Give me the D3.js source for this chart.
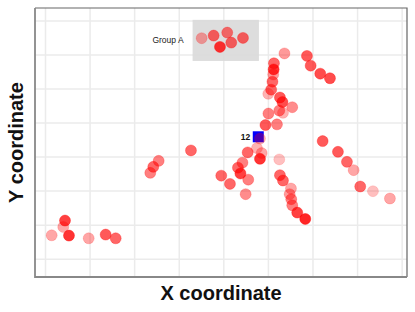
<!DOCTYPE html>
<html>
<head>
<meta charset="utf-8">
<script src="https://cdn.jsdelivr.net/npm/d3@7"></script>
<style>
  body { margin: 0; background: #fff; }
  svg { display: block; font-family: "Liberation Sans", Arial, sans-serif; }
</style>
</head>
<body>
<svg id="chart" width="415" height="312"></svg>
<script>
// point data
const xValues = [4.49, 4.10, 5.38, 1.50, 9.80, 13.61, 15.86,
  35.14, 37.83, 40.88, 39.25, 41.78, 44.41,
  32.74, 25.50, 24.29, 23.62,
  45.46, 48.60, 47.55, 48.22, 44.29, 43.28, 43.84, 39.54, 41.49, 45.59, 45.01, 48.22,
  49.45, 52.03, 50.12, 52.55, 53.38, 55.46, 53.26, 52.70, 50.08, 50.73, 51.02, 51.20, 51.29, 51.36, 53.71,
  58.76, 59.59, 61.74, 63.92,
  62.28, 65.71, 67.73, 69.23, 70.71, 73.56, 77.37,
  52.55, 52.70, 53.38, 55.17, 54.88, 55.24, 55.46, 56.58, 58.38];
const yValues = [11.2, 9.31, 6.78, 6.86, 5.98, 7.07, 5.98,
  64.82, 65.59, 66.47, 62.26, 63.52, 64.91,
  31.82, 28.76, 26.99, 25.22,
  31.23, 31.03, 32.50, 29.35, 28.23, 26.75, 25.04, 24.40, 21.98, 23.22, 18.95, 35.30,
  39.28, 39.48, 42.66, 43.55, 42.87, 44.52, 46.05, 47.38, 48.47, 49.68, 52.03, 54.15, 55.63, 57.45, 60.34,
  59.61, 56.75, 54.39, 53.04,
  34.56, 31.41, 28.46, 26.02, 21.21, 19.83, 17.68,
  29.17, 24.54, 22.98, 20.62, 18.95, 17.47, 15.70, 13.55, 11.67];
const opacities = [0.75, 0.35, 0.8, 0.35, 0.35, 0.65, 0.6,
  0.35, 0.6, 0.55, 0.8, 0.6, 0.6,
  0.6, 0.5, 0.6, 0.5,
  0.6, 0.35, 0.3, 0.8, 0.5, 0.6, 0.75, 0.6, 0.6, 0.5, 0.45, 0.3,
  0.65, 0.5, 0.5, 0.5, 0.3, 0.45, 0.7, 0.65, 0.3, 0.6, 0.6, 0.4, 0.8, 0.6, 0.4,
  0.65, 0.65, 0.7, 0.7,
  0.65, 0.65, 0.6, 0.35, 0.6, 0.25, 0.35,
  0.25, 0.6, 0.6, 0.35, 0.4, 0.5, 0.5, 0.75, 0.85];

const xTicks = [0, 10, 20, 30, 40, 50, 60, 70, 80];
const yTicks = [0, 10, 20, 30, 40, 50, 60, 70];

// highlighted point and group box
const markPoint = { x: 47.84, y: 35.83, label: '12' };
const groupBox = { x0: 33.11, x1: 47.99, y0: 58.13, y1: 70.21, label: 'Group A' };

const svg = d3.select('#chart');
const margin = { top: 8, right: 8, bottom: 35, left: 35 };
const width = 415 - margin.left - margin.right;
const height = 312 - margin.top - margin.bottom;

const x = d3.scaleLinear().domain([-2.24, 81.2]).range([0, width]);
const y = d3.scaleLinear().domain([-5.4, 73.7]).range([height, 0]);

const g = svg.append('g')
  .attr('transform', `translate(${margin.left},${margin.top})`);

// grid
g.append('g')
  .attr('class', 'grid')
  .attr('transform', `translate(0,${height})`)
  .call(d3.axisBottom(x).tickValues(xTicks).tickSize(-height).tickFormat(''))
  .call(s => s.select('.domain').remove())
  .call(s => s.selectAll('line').attr('stroke', '#ebebeb').attr('stroke-width', 1.5));

g.append('g')
  .attr('class', 'grid')
  .call(d3.axisLeft(y).tickValues(yTicks).tickSize(-width).tickFormat(''))
  .call(s => s.select('.domain').remove())
  .call(s => s.selectAll('line').attr('stroke', '#ebebeb').attr('stroke-width', 1.5));

// frame
g.append('path')
  .attr('d', `M0,0H${width}V${height}`)
  .attr('fill', 'none')
  .attr('stroke', '#666')
  .attr('stroke-width', 1.2);
g.append('path')
  .attr('d', `M0,0V${height}H${width}`)
  .attr('fill', 'none')
  .attr('stroke', '#888')
  .attr('stroke-width', 1.8);

// group annotation
g.append('rect')
  .attr('x', x(groupBox.x0))
  .attr('y', y(groupBox.y1))
  .attr('width', x(groupBox.x1) - x(groupBox.x0))
  .attr('height', y(groupBox.y0) - y(groupBox.y1))
  .attr('fill', '#d9d9d9')
  .attr('opacity', 0.9);

g.append('text')
  .attr('x', x(groupBox.x0) - 9)
  .attr('y', (y(groupBox.y0) + y(groupBox.y1)) / 2)
  .attr('dy', '0.35em')
  .attr('text-anchor', 'end')
  .attr('font-size', 8.5)
  .attr('fill', '#222')
  .text(groupBox.label);

// highlighted square
g.append('rect')
  .attr('x', x(markPoint.x) - 5.5)
  .attr('y', y(markPoint.y) - 5.5)
  .attr('width', 11)
  .attr('height', 11)
  .attr('fill', '#0000ff');

g.append('text')
  .attr('x', x(markPoint.x) - 8)
  .attr('y', y(markPoint.y))
  .attr('dy', '0.35em')
  .attr('text-anchor', 'end')
  .attr('font-size', 8.5)
  .attr('font-weight', 'bold')
  .attr('fill', '#111')
  .text(markPoint.label);

// points
const points = xValues.map((d, i) => ({ x: d, y: yValues[i], a: opacities[i] }));

g.selectAll('.dot')
  .data(points)
  .enter()
  .append('circle')
  .attr('class', 'dot')
  .attr('cx', d => x(d.x))
  .attr('cy', d => y(d.y))
  .attr('r', 5.5)
  .attr('fill', 'red')
  .attr('fill-opacity', d => d.a)
  .attr('stroke', 'red')
  .attr('stroke-opacity', d => Math.min(1, d.a * 0.6))
  .attr('stroke-width', 0.8);

// axis titles
svg.append('text')
  .attr('x', margin.left + width / 2)
  .attr('y', 300)
  .attr('text-anchor', 'middle')
  .attr('font-size', 20)
  .attr('font-weight', 'bold')
  .attr('fill', '#111')
  .text('X coordinate');

svg.append('text')
  .attr('transform', `translate(23,${margin.top + height / 2}) rotate(-90)`)
  .attr('text-anchor', 'middle')
  .attr('font-size', 20)
  .attr('font-weight', 'bold')
  .attr('fill', '#111')
  .text('Y coordinate');
</script>
</body>
</html>
